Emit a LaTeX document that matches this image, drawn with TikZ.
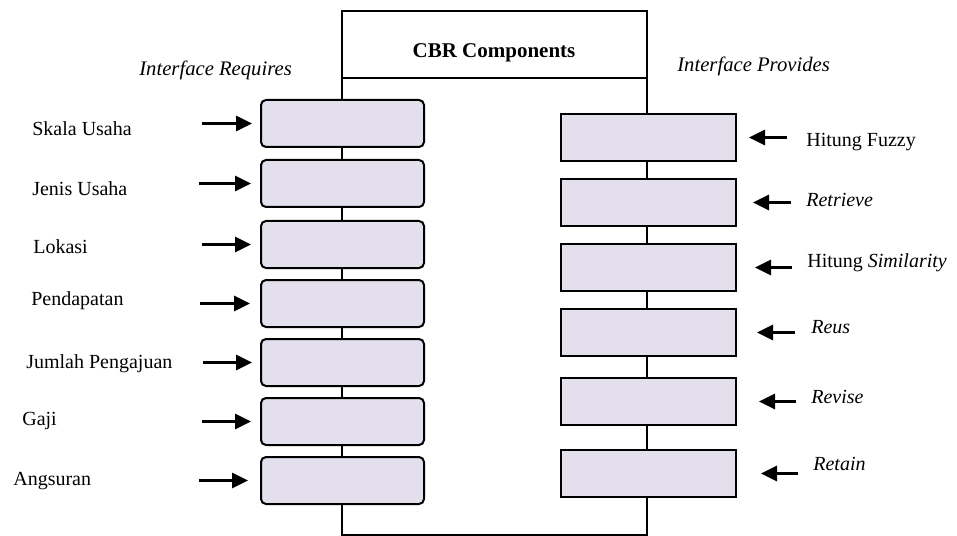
\documentclass[tikz,border=0pt]{standalone}
\usepackage{fontspec}
\setmainfont{Liberation Serif}
\usetikzlibrary{arrows.meta}
\definecolor{boxfill}{RGB}{228,223,236}
\begin{document}
\begin{tikzpicture}[x=0.6pt,y=-0.6pt,
  lbl/.style={anchor=base west, inner sep=0pt, font=\fontsize{12}{14}\selectfont},
  hdr/.style={anchor=base west, inner sep=0pt, font=\fontsize{12.4}{14}\selectfont\itshape},
  lbox/.style={draw, line width=1.2pt, fill=boxfill, rounded corners=3pt,
    minimum width=97.8pt, minimum height=28.2pt, inner sep=0pt, outer sep=0pt},
  rbox/.style={draw, line width=1.2pt, fill=boxfill,
    minimum width=105pt, minimum height=28.2pt, inner sep=0pt, outer sep=0pt},
  arr/.style={line width=1.7pt, -{Triangle[length=9.6pt,width=9pt]}},
  frameline/.style={line width=1.2pt}]
\useasboundingbox (0,0) rectangle (957,536);
% component frame
\draw[frameline] (342,11) rectangle (647,535);
\draw[frameline] (342,78) -- (647,78);
\node[anchor=base, inner sep=0pt, font=\fontsize{12.6}{14}\selectfont\bfseries] (title) at (494,58) {CBR Components};
\node[hdr] (hreq) at (139,76) {Interface Requires};
\node[hdr] (hprov) at (677,72) {Interface Provides};
% left boxes
\node[lbox] (L1) at (342.5,123.5) {};
\node[lbox] (L2) at (342.5,183.5) {};
\node[lbox] (L3) at (342.5,244.5) {};
\node[lbox] (L4) at (342.5,303.5) {};
\node[lbox] (L5) at (342.5,362.5) {};
\node[lbox] (L6) at (342.5,421.5) {};
\node[lbox] (L7) at (342.5,480.5) {};
% right boxes
\node[rbox] (R1) at (648.5,137.5) {};
\node[rbox] (R2) at (648.5,202.5) {};
\node[rbox] (R3) at (648.5,267.5) {};
\node[rbox] (R4) at (648.5,332.5) {};
\node[rbox] (R5) at (648.5,401.5) {};
\node[rbox] (R6) at (648.5,473.5) {};
% left labels
\node[lbl] (t1) at (32,136) {Skala Usaha};
\node[lbl] (t2) at (32,195) {Jenis Usaha};
\node[lbl] (t3) at (33,254) {Lokasi};
\node[lbl] (t4) at (31,305) {Pendapatan};
\node[lbl] (t5) at (26,368) {Jumlah Pengajuan};
\node[lbl] (t6) at (22,425) {Gaji};
\node[lbl] (t7) at (13,485) {Angsuran};
% right labels
\node[lbl] (u1) at (806,147) {Hitung Fuzzy};
\node[lbl] (u2) at (806,207) {\itshape Retrieve};
\node[lbl] (u3) at (807,267) {Hitung \textit{Similarity}};
\node[lbl] (u4) at (811,333) {\itshape Reus};
\node[lbl] (u5) at (811,403) {\itshape Revise};
\node[lbl] (u6) at (813,470) {\itshape Retain};
% arrow tails
\coordinate (a1) at (202,123.5);
\coordinate (a2) at (199,183.5);
\coordinate (a3) at (202,244.5);
\coordinate (a4) at (200,303.5);
\coordinate (a5) at (203,362.5);
\coordinate (a6) at (202,421.5);
\coordinate (a7) at (199,480.5);
\coordinate (b1) at (787,137.5);
\coordinate (b2) at (791,202.5);
\coordinate (b3) at (792,267.5);
\coordinate (b4) at (795,332.5);
\coordinate (b5) at (796,401.5);
\coordinate (b6) at (798,473.5);
% arrows
\draw[arr, shorten >=5.4pt] (a1) -- (L1.west);
\draw[arr, shorten >=6pt] (a2) -- (L2.west);
\draw[arr, shorten >=6pt] (a3) -- (L3.west);
\draw[arr, shorten >=6.6pt] (a4) -- (L4.west);
\draw[arr, shorten >=5.4pt] (a5) -- (L5.west);
\draw[arr, shorten >=6pt] (a6) -- (L6.west);
\draw[arr, shorten >=7.8pt] (a7) -- (L7.west);
\draw[arr, shorten >=7.8pt] (b1) -- (R1.east);
\draw[arr, shorten >=10.2pt] (b2) -- (R2.east);
\draw[arr, shorten >=11.4pt] (b3) -- (R3.east);
\draw[arr, shorten >=12.6pt] (b4) -- (R4.east);
\draw[arr, shorten >=13.8pt] (b5) -- (R5.east);
\draw[arr, shorten >=15pt] (b6) -- (R6.east);
\end{tikzpicture}
\end{document}
